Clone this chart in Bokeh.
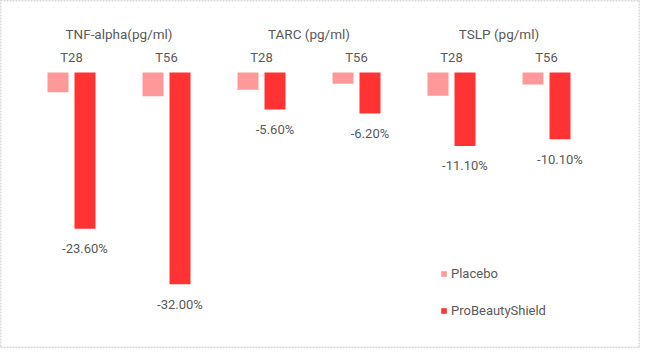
from bokeh.plotting import figure
from bokeh.models import Range1d, ColumnDataSource, Legend, LegendItem
from bokeh.core.properties import value
from bokeh.embed import file_html
from bokeh.resources import INLINE

groups = ["TNF-alpha(pg/ml)", "TARC (pg/ml)", "TSLP (pg/ml)"]
times = ["T28", "T56", "T28", "T56", "T28", "T56"]
placebo = [-3.0, -3.6, -2.6, -1.7, -3.5, -1.8]
probeauty = [-23.6, -32.0, -5.6, -6.2, -11.1, -10.1]

W, H = 640, 348
PX_X = 95.0          # pixels per category
X0 = 71.0            # pixel centre of first category (within figure)
PX_Y = 6.62          # pixels per percent
Y0 = 72.0            # pixel of zero line (within figure)

FONT = value("Roboto")
TXT = "#595959"

p = figure(width=W, height=H, output_backend="svg", toolbar_location=None,
           x_range=Range1d(-X0 / PX_X, (W - X0) / PX_X),
           y_range=Range1d(-(H - Y0) / PX_Y, Y0 / PX_Y),
           x_axis_location=None, y_axis_location=None,
           min_border=0, min_border_left=0, min_border_right=0,
           min_border_top=0, min_border_bottom=0)
p.grid.visible = False
p.outline_line_color = "#d9d9d9"
p.outline_line_width = 2
p.outline_line_dash = "2 1"
p.background_fill_color = "white"
p.border_fill_color = "white"

xs = list(range(len(times)))
off = 13.5 / PX_X
bw = 21.0 / PX_X
src = ColumnDataSource(dict(
    x=xs,
    xp=[x - off for x in xs],
    xb=[x + off for x in xs],
    placebo=placebo,
    probeauty=probeauty,
    lab=[f"{v:.2f}%" for v in probeauty],
    laby=[v - 20.0 / PX_Y for v in probeauty],
    t=times,
    ty=[15.0 / PX_Y] * len(times),
))

r1 = p.vbar(x="xp", top=0, bottom="placebo", width=bw, source=src,
            fill_color="#FF9999", line_color=None)
r2 = p.vbar(x="xb", top=0, bottom="probeauty", width=bw, source=src,
            fill_color="#FF3333", line_color=None)

p.text(x="xb", y="laby", text="lab", source=src, text_align="center",
       text_baseline="middle", text_font=FONT, text_font_size="13px",
       text_color=TXT)
p.text(x="x", y="ty", text="t", source=src, text_align="center",
       text_baseline="middle", text_font=FONT, text_font_size="13px",
       text_color=TXT)

gsrc = ColumnDataSource(dict(
    x=[2 * i + 0.5 for i in range(len(groups))],
    y=[(Y0 - 33.0) / PX_Y] * len(groups),
    g=groups,
))
p.text(x="x", y="y", text="g", source=gsrc, text_align="center",
       text_baseline="middle", text_font=FONT, text_font_size="13.5px",
       text_color=TXT)

legend = Legend(items=[LegendItem(label="Placebo", renderers=[r1]),
                       LegendItem(label="ProBeautyShield", renderers=[r2])],
                location=(440, 30), orientation="vertical",
                glyph_width=7, glyph_height=7, label_standoff=4,
                spacing=21, label_height=16,
                label_text_font="Roboto", label_text_font_size="13px",
                label_text_color=TXT, border_line_color=None,
                background_fill_alpha=0, padding=0, margin=0)
p.add_layout(legend, "center")

open("out.html", "w").write(file_html(p, INLINE))
